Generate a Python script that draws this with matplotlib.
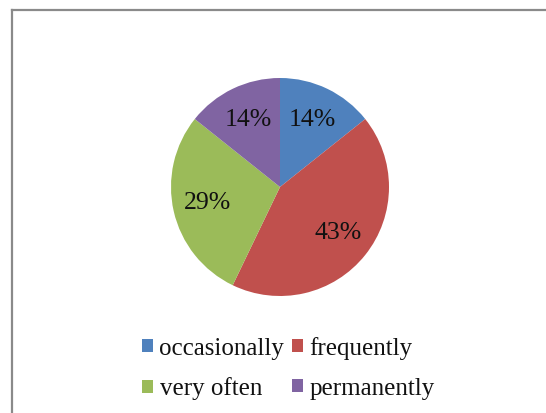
import matplotlib.pyplot as plt
from matplotlib.lines import Line2D
from matplotlib.patches import Patch

labels = ['occasionally', 'frequently', 'very often', 'permanently']
counts = [1, 3, 2, 1]
colors = ['#4F81BD', '#C0504D', '#9BBB59', '#8064A2']

plt.rcParams['font.family'] = ['Liberation Serif', 'DejaVu Serif']

W, H = 546, 413
fig = plt.figure(figsize=(W / 100, H / 100), dpi=100)
fig.patch.set_facecolor('white')

# chart frame, cut off at right and bottom
fig.add_artist(Line2D([12 / W, 12 / W], [0, 1 - 9.5 / H], color='#8a8a8a', lw=1.6))
fig.add_artist(Line2D([12 / W, 1], [1 - 9.5 / H, 1 - 9.5 / H], color='#8a8a8a', lw=1.6))

cx, cy, r = 280, 187, 109
ax = fig.add_axes([(cx - r) / W, 1 - (cy + r) / H, 2 * r / W, 2 * r / H])
wedges, texts, autotexts = ax.pie(counts, colors=colors, startangle=90, counterclock=False,
                                  autopct='%.0f%%', pctdistance=0.68,
                                  textprops={'fontsize': 18.5, 'color': '#111111'})
ax.set_xlim(-1, 1)
ax.set_ylim(-1, 1)
ax.axis('off')

# two rows: occasionally | frequently, very often | permanently
order = [0, 2, 1, 3]
handles = [Patch(facecolor=colors[i], label=labels[i]) for i in order]
leg = fig.legend(handles=handles, ncol=2, loc='center left', bbox_to_anchor=(142 / W, 1 - 368.5 / H),
                 frameon=False, fontsize=18, handlelength=0.44, handleheight=0.44,
                 handletextpad=0.26, columnspacing=0.3, labelspacing=0.72, borderpad=0,
                 borderaxespad=0)
for t in leg.get_texts():
    t.set_color('#111111')

fig.savefig('out.png', dpi=100)
